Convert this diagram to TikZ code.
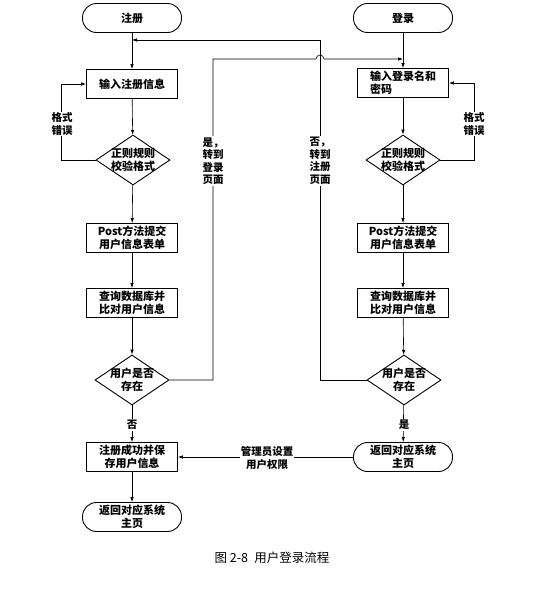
\documentclass[tikz,border=0pt]{standalone}
\usepackage{fontspec}
\setmainfont{Noto Sans CJK SC}
\usetikzlibrary{shapes.geometric,arrows.meta}

\begin{document}
\begin{tikzpicture}[x=1pt, y=-1pt,
                    font=\fontsize{11}{13}\selectfont\bfseries,
                    term/.style={draw, line width=0.9pt, rectangle, rounded corners=14pt,
                                 minimum width=99pt, minimum height=29pt, inner sep=1pt, align=center},
                    proc/.style={draw, line width=0.9pt, rectangle,
                                 minimum width=91pt, minimum height=29pt, inner sep=1pt, align=center},
                    dec/.style={draw, line width=0.9pt, diamond,
                                minimum width=74pt, minimum height=50pt, inner sep=0pt},
                    dectext/.style={align=center, inner sep=0pt},
                    lbl/.style={fill=white, align=center, inner sep=1pt,
                                font=\fontsize{10.5}{12.5}\selectfont\bfseries},
                    arr/.style={draw, line width=0.6pt, -{Latex[length=5pt,width=3.5pt]}}]
  \useasboundingbox (0,0) rectangle (551,592);

  % left column: register
  \node[term] (lstart) at (132,18)  {注册};
  \node[proc] (linput) at (132,84)  {输入注册信息};
  \node[dec]  (lcheck) at (133,160) {};
  \node[dectext] (lchecktext) at (lcheck) {正则规则\\校验格式};
  \node[proc] (lpost)  at (132,238) {Post方法提交\\用户信息表单};
  \node[proc] (lquery) at (132,303) {查询数据库并\\比对用户信息};
  \node[dec]  (lexist) at (132,380) {};
  \node[dectext] (lexisttext) at (lexist) {用户是否\\存在};
  \node[proc] (lsave)  at (132,457) {注册成功并保\\存用户信息};
  \node[term] (lhome)  at (132,517) {返回对应系统\\主页};

  % right column: login
  \node[term] (rstart) at (403,18)  {登录};
  \node[proc, align=left] (rinput) at (403,83) {输入登录名和\\密码};
  \node[dec]  (rcheck) at (403,160) {};
  \node[dectext] (rchecktext) at (rcheck) {正则规则\\校验格式};
  \node[proc] (rpost)  at (403,238) {Post方法提交\\用户信息表单};
  \node[proc] (rquery) at (403,303) {查询数据库并\\比对用户信息};
  \node[dec]  (rexist) at (404,380) {};
  \node[dectext] (rexisttext) at (rexist) {用户是否\\存在};
  \node[term] (rhome)  at (403,457) {返回对应系统\\主页};

  % turning points of the cross links
  \coordinate (ljoin) at (132,40);
  \coordinate (rturn) at (320,40);
  \coordinate (lturn) at (213,59);
  \coordinate (rjoin) at (403,59);

  % main flow
  \draw[arr] (lstart) -- (linput);
  \draw[arr] (linput) -- (lcheck);
  \draw[arr] (lcheck) -- (lpost);
  \draw[arr] (lpost)  -- (lquery);
  \draw[arr] (lquery) -- (lexist);
  \draw[arr] (lexist) -- (lsave);
  \draw[arr] (lsave)  -- (lhome);

  \draw[arr] (rstart) -- (rinput);
  \draw[arr] (rinput) -- (rcheck);
  \draw[arr] (rcheck) -- (rpost);
  \draw[arr] (rpost)  -- (rquery);
  \draw[arr] (rquery) -- (rexist);
  \draw[arr] (rexist) -- (rhome);
  \draw[arr] (rhome)  -- (lsave);

  % format error loops
  \draw[arr] (lcheck.west) -- ++(-34,0) |- (linput.west);
  \draw[arr] (rcheck.east) -- ++(34,0) |- (rinput.east);

  % cross links
  \draw[arr] (rexist.west) -| (rturn) -- (ljoin);
  \draw[arr] (lexist.east) -| (lturn) -- ([xshift=-4pt]rturn |- lturn)
    arc[start angle=180, end angle=360, radius=4] -- (rjoin);

  % labels on the lines
  \node[lbl] (lerr)  at (62,124)  {格式\\错误};
  \node[lbl] (rerr)  at (474,124) {格式\\错误};
  \node[lbl] (lyes)  at (213,161) {是，\\转到\\登录\\页面};
  \node[lbl] (rno)   at (320,161) {否，\\转到\\注册\\页面};
  \node[lbl] (lno)   at (132,425) {否};
  \node[lbl] (ryes)  at (404,425) {是};
  \node[lbl] (admin) at (267,458) {管理员设置\\用户权限};

  % caption
  \node[font=\fontsize{12.5}{14}\selectfont] (caption) at (272,558) {图 2-8\enspace 用户登录流程};
\end{tikzpicture}
\end{document}
